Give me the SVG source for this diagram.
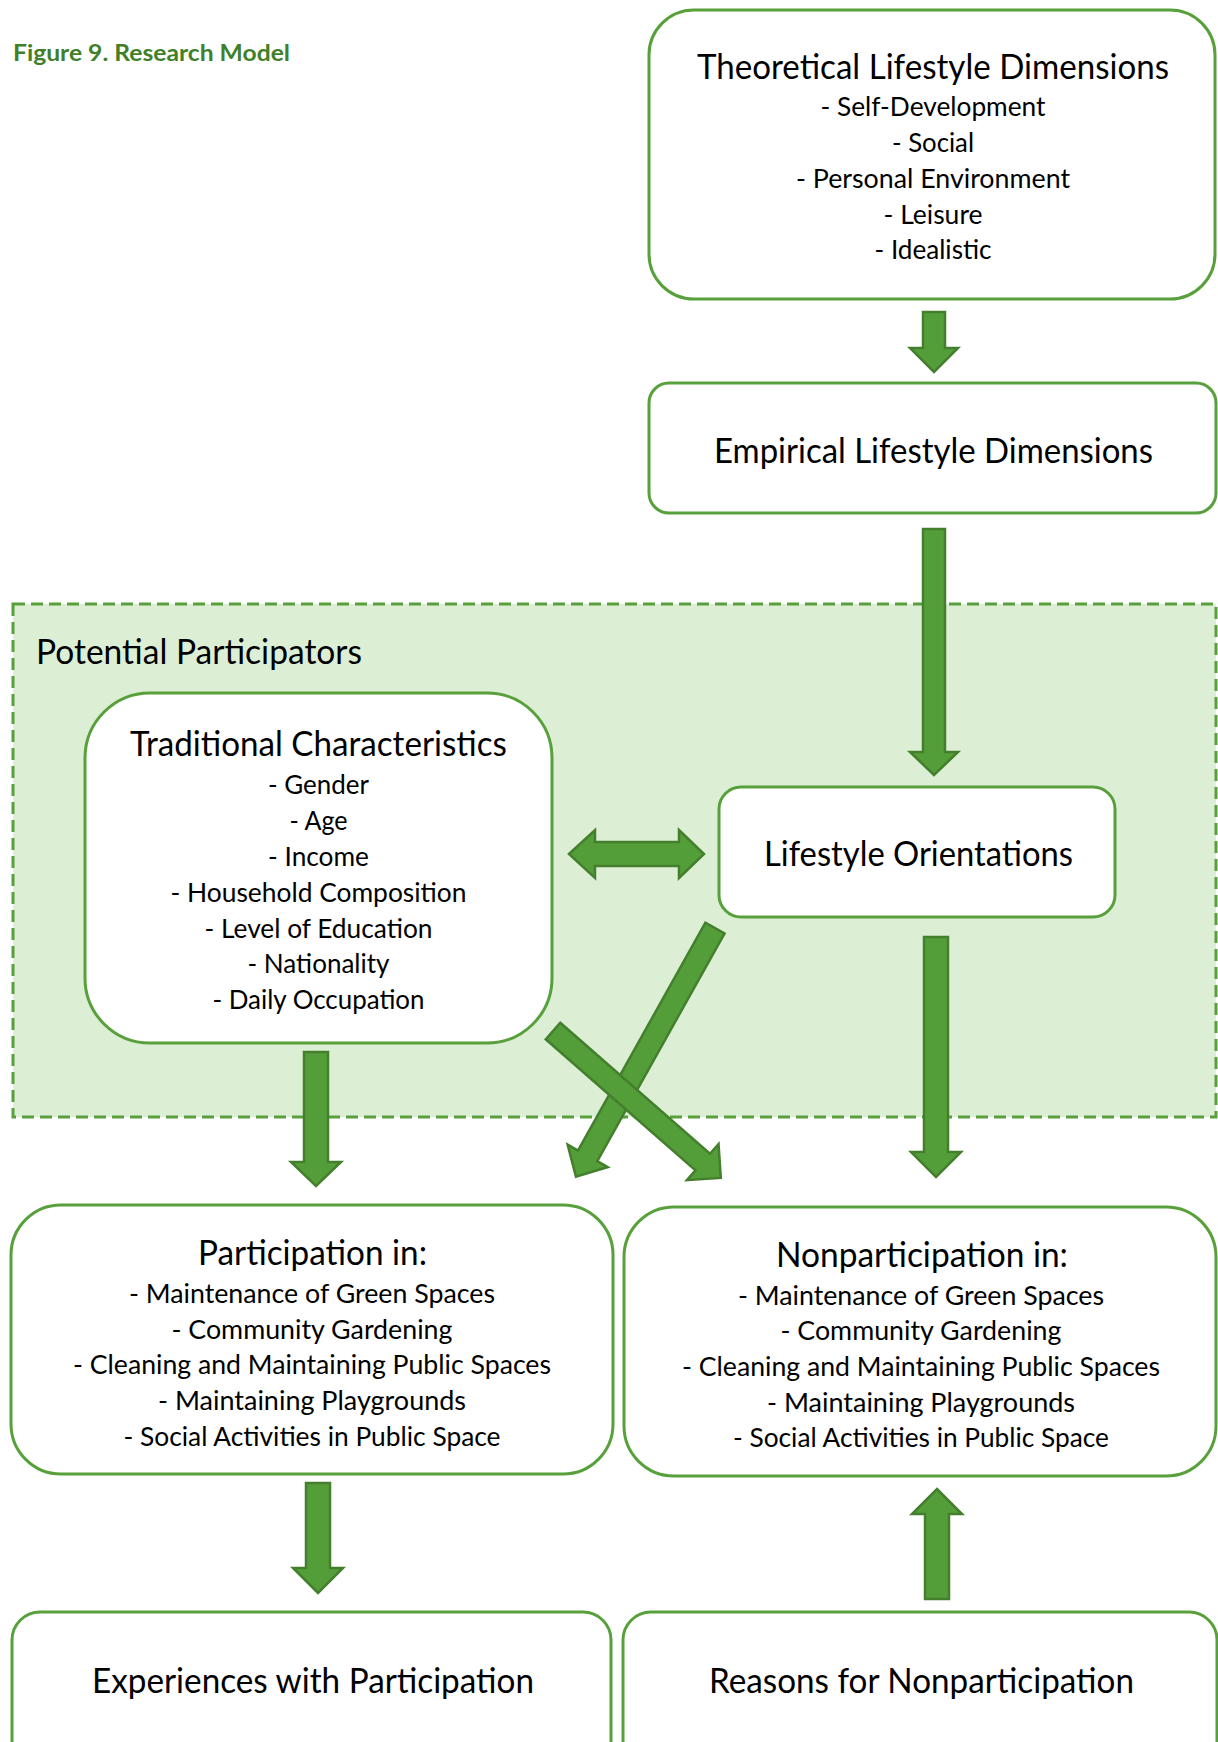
<svg xmlns="http://www.w3.org/2000/svg" width="1218" height="1742" viewBox="0 0 1218 1742">
<style>
.bg{fill:#ffffff}
.box{fill:#ffffff;stroke:#58A03B;stroke-width:3}
.group{fill:#DCEFD5;stroke:#58A03B;stroke-width:3;stroke-dasharray:12 6}
.arr{fill:#549E39;stroke:#437F2D;stroke-width:2.5;stroke-linejoin:miter}
.t{font-family:Lato,"Liberation Sans",sans-serif;fill:#000000;text-anchor:middle}
.h{font-size:34px}
.l{font-size:26.5px}
.fig{font-family:Lato,"Liberation Sans",sans-serif;font-weight:bold;font-size:23px;fill:#3F8028}
</style>
<rect class="bg" x="0" y="0" width="1218" height="1742"/>
<text class="fig" x="13" y="61" textLength="277" lengthAdjust="spacingAndGlyphs">Figure 9. Research Model</text>

<g id="potential-participators">
<rect class="group" x="13" y="604" width="1203" height="513"/>
<text class="t h" x="36" y="664" style="text-anchor:start" textLength="326" lengthAdjust="spacingAndGlyphs">Potential Participators</text>
</g>

<g id="theoretical">
<rect class="box" x="649" y="10" width="566" height="289" rx="45"/>
<text class="t h" x="933" y="79" textLength="472" lengthAdjust="spacingAndGlyphs">Theoretical Lifestyle Dimensions</text>
<text class="t l" x="933" y="116" textLength="225" lengthAdjust="spacingAndGlyphs">- Self-Development</text>
<text class="t l" x="933" y="152" textLength="82" lengthAdjust="spacingAndGlyphs">- Social</text>
<text class="t l" x="933" y="188" textLength="274" lengthAdjust="spacingAndGlyphs">- Personal Environment</text>
<text class="t l" x="933" y="224" textLength="99" lengthAdjust="spacingAndGlyphs">- Leisure</text>
<text class="t l" x="933" y="259" textLength="117" lengthAdjust="spacingAndGlyphs">- Idealistic</text>
</g>

<g id="empirical">
<rect class="box" x="649" y="383" width="567" height="130" rx="20"/>
<text class="t h" x="933.5" y="463" textLength="439" lengthAdjust="spacingAndGlyphs">Empirical Lifestyle Dimensions</text>
</g>

<g id="traditional">
<rect class="box" x="85" y="693" width="467" height="350" rx="65"/>
<text class="t h" x="318.5" y="756" textLength="377" lengthAdjust="spacingAndGlyphs">Traditional Characteristics</text>
<text class="t l" x="318.5" y="794" textLength="101" lengthAdjust="spacingAndGlyphs">- Gender</text>
<text class="t l" x="318.5" y="830" textLength="58" lengthAdjust="spacingAndGlyphs">- Age</text>
<text class="t l" x="318.5" y="866" textLength="101" lengthAdjust="spacingAndGlyphs">- Income</text>
<text class="t l" x="318.5" y="902" textLength="296" lengthAdjust="spacingAndGlyphs">- Household Composition</text>
<text class="t l" x="318.5" y="938" textLength="228" lengthAdjust="spacingAndGlyphs">- Level of Education</text>
<text class="t l" x="318.5" y="973" textLength="142" lengthAdjust="spacingAndGlyphs">- Nationality</text>
<text class="t l" x="318.5" y="1009" textLength="212" lengthAdjust="spacingAndGlyphs">- Daily Occupation</text>
</g>

<g id="lifestyle-orientations">
<rect class="box" x="719" y="787" width="396" height="130" rx="22"/>
<text class="t h" x="918.5" y="866" textLength="309" lengthAdjust="spacingAndGlyphs">Lifestyle Orientations</text>
</g>

<g id="participation">
<rect class="box" x="11" y="1205" width="602" height="269" rx="50"/>
<text class="t h" x="312.5" y="1265" textLength="229" lengthAdjust="spacingAndGlyphs">Participation in:</text>
<text class="t l" x="312" y="1303" textLength="366" lengthAdjust="spacingAndGlyphs">- Maintenance of Green Spaces</text>
<text class="t l" x="312" y="1339" textLength="281" lengthAdjust="spacingAndGlyphs">- Community Gardening</text>
<text class="t l" x="312" y="1374" textLength="478" lengthAdjust="spacingAndGlyphs">- Cleaning and Maintaining Public Spaces</text>
<text class="t l" x="312" y="1410" textLength="308" lengthAdjust="spacingAndGlyphs">- Maintaining Playgrounds</text>
<text class="t l" x="312" y="1446" textLength="377" lengthAdjust="spacingAndGlyphs">- Social Activities in Public Space</text>
</g>

<g id="nonparticipation">
<rect class="box" x="624" y="1207" width="592" height="269" rx="50"/>
<text class="t h" x="922" y="1267" textLength="292" lengthAdjust="spacingAndGlyphs">Nonparticipation in:</text>
<text class="t l" x="921" y="1305" textLength="366" lengthAdjust="spacingAndGlyphs">- Maintenance of Green Spaces</text>
<text class="t l" x="921" y="1340" textLength="281" lengthAdjust="spacingAndGlyphs">- Community Gardening</text>
<text class="t l" x="921" y="1376" textLength="478" lengthAdjust="spacingAndGlyphs">- Cleaning and Maintaining Public Spaces</text>
<text class="t l" x="921" y="1412" textLength="308" lengthAdjust="spacingAndGlyphs">- Maintaining Playgrounds</text>
<text class="t l" x="921" y="1447" textLength="376" lengthAdjust="spacingAndGlyphs">- Social Activities in Public Space</text>
</g>

<g id="experiences">
<rect class="box" x="12" y="1612" width="599" height="190" rx="28"/>
<text class="t h" x="313" y="1693" textLength="442" lengthAdjust="spacingAndGlyphs">Experiences with Participation</text>
</g>

<g id="reasons">
<rect class="box" x="623" y="1612" width="594" height="190" rx="28"/>
<text class="t h" x="921.5" y="1693" textLength="425" lengthAdjust="spacingAndGlyphs">Reasons for Nonparticipation</text>
</g>

<g id="connectors">
<polygon class="arr" points="923,312 945,312 945,348 958,348 934,372 910,348 923,348"/>
<polygon class="arr" points="923,529 945,529 945,752 958,752 934,775 910,752 923,752"/>
<polygon class="arr" points="569,854 595,830 595,842 679,842 679,830 704,854 679,878 679,866 595,866 595,878"/>
<polygon class="arr" points="924,937 948,937 948,1152 961,1152 936,1177 911,1152 924,1152"/>
<polygon class="arr" points="304,1052 328,1052 328,1162 341,1162 316,1186 291,1162 304,1162"/>
<polygon class="arr" transform="translate(715,928) rotate(119.2)" points="0,-11 261,-11 261,-23 285,0 261,23 261,11 0,11"/>
<polygon class="arr" transform="translate(553,1031) rotate(41.2)" points="0,-11 199,-11 199,-24 223,0 199,24 199,11 0,11"/>
<polygon class="arr" points="306,1483 330,1483 330,1568 343,1568 318,1593 293,1568 306,1568"/>
<polygon class="arr" points="925,1599 949,1599 949,1514 962,1514 937,1489 912,1514 925,1514"/>
</g>
</svg>
